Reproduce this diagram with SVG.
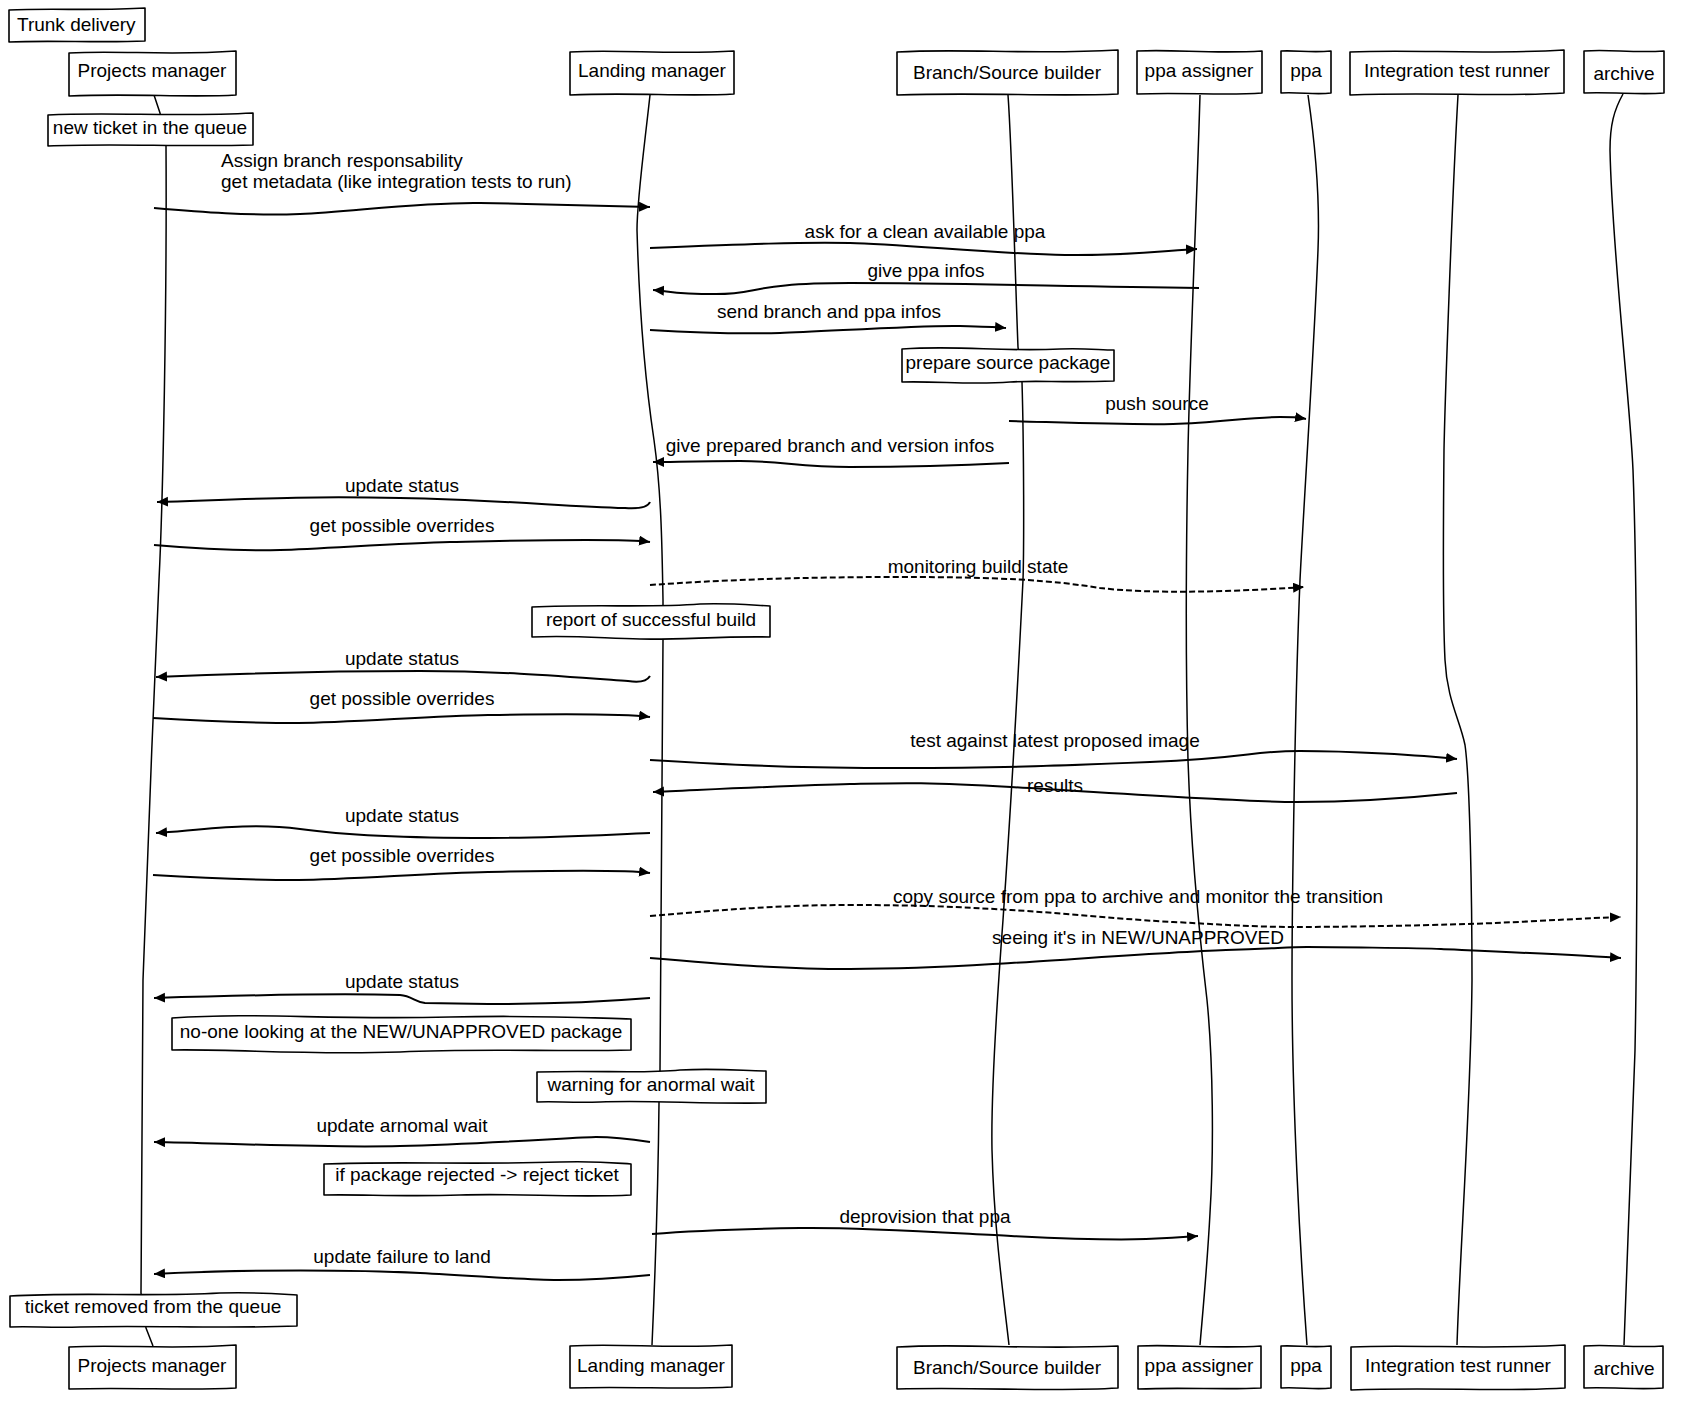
<svg xmlns="http://www.w3.org/2000/svg" width="1693" height="1408" viewBox="0 0 1693 1408">
<style>
.box{fill:#fff;stroke:#000;stroke-width:1.6;stroke-linejoin:round}
.life{fill:none;stroke:#000;stroke-width:1.5;stroke-linejoin:round}
.msg{fill:none;stroke:#000;stroke-width:2;marker-end:url(#ah)}
.dash{stroke-dasharray:6 3}
text{font-family:"Liberation Sans",Arial,sans-serif;font-size:19px;fill:#000}
.c{text-anchor:middle}
</style>
<defs>
<marker id="ah" markerWidth="12" markerHeight="11" refX="11" refY="5" orient="auto" markerUnits="userSpaceOnUse">
<path d="M0,0 L11,5 L0,10 Z" fill="#000"/>
</marker>
</defs>
<rect width="1693" height="1408" fill="#fff"/>

<g id="title">
<path class="box" d="M9,10 C50,8 100,11 145,8 L145,41 C100,43 50,40 9,42 Z"/>
<text x="17" y="31">Trunk delivery</text>
</g>

<g id="projects-manager">
<path class="life" d="M154,95 L160,113 L166,145 C167,300 163,500 159,580 C154,700 145,900 143,980 C142,1100 141,1200 141,1293 L146,1328 L153,1346"/>
<path class="box" d="M69,53 C119,50 169,56 236,51 L236,95 C186,98 136,93 69,96 Z"/>
<text class="c" x="152" y="77">Projects manager</text>
<path class="box" d="M69,1347 C119,1344 169,1350 236,1345 L236,1388 C186,1391 136,1387 69,1389 Z"/>
<text class="c" x="152" y="1372">Projects manager</text>
</g>

<g id="landing-manager">
<path class="life" d="M650,95 C644,150 637,200 637,230 C639,300 645,380 654,440 C661,490 662,540 663,600 L663,640 C663,800 662,950 660,1070 L659,1103 C658,1200 654,1300 652,1345"/>
<path class="box" d="M570,52 C620,49 670,55 734,51 L734,94 C684,97 634,92 570,95 Z"/>
<text class="c" x="652" y="77">Landing manager</text>
<path class="box" d="M570,1346 C620,1343 670,1349 732,1345 L732,1387 C682,1390 632,1386 570,1388 Z"/>
<text class="c" x="651" y="1372">Landing manager</text>
</g>

<g id="branch-source-builder">
<path class="life" d="M1008,95 C1012,150 1016,300 1018,347 L1022,382 C1024,450 1024,550 1023,580 C1018,680 1010,820 1003,920 C997,1000 991,1100 992,1150 C994,1230 1004,1300 1009,1345"/>
<path class="box" d="M897,52 C963,48 1030,55 1118,50 L1118,94 C1052,97 986,92 897,95 Z"/>
<text class="c" x="1007" y="79">Branch/Source builder</text>
<path class="box" d="M897,1347 C963,1343 1030,1350 1118,1346 L1118,1388 C1052,1392 986,1387 897,1389 Z"/>
<text class="c" x="1007" y="1374">Branch/Source builder</text>
</g>

<g id="ppa-assigner">
<path class="life" d="M1200,95 C1197,200 1190,350 1188,450 C1186,550 1186,680 1188,760 C1191,850 1200,940 1207,1000 C1213,1060 1214,1150 1210,1213 C1207,1270 1202,1320 1200,1345"/>
<path class="box" d="M1137,51 C1175,49 1210,54 1262,51 L1262,93 C1224,96 1186,92 1137,94 Z"/>
<text class="c" x="1199" y="77">ppa assigner</text>
<path class="box" d="M1138,1346 C1176,1344 1211,1349 1261,1346 L1261,1388 C1223,1390 1185,1387 1138,1389 Z"/>
<text class="c" x="1199" y="1372">ppa assigner</text>
</g>

<g id="ppa">
<path class="life" d="M1308,95 C1316,150 1320,200 1318,250 C1314,350 1304,500 1300,580 C1295,700 1292,900 1292,980 C1292,1100 1300,1250 1307,1345"/>
<path class="box" d="M1281,51 C1296,50 1310,53 1331,51 L1331,93 C1316,95 1300,92 1281,93 Z"/>
<text class="c" x="1306" y="77">ppa</text>
<path class="box" d="M1281,1346 C1296,1345 1310,1348 1331,1346 L1331,1388 C1316,1390 1300,1387 1281,1388 Z"/>
<text class="c" x="1306" y="1372">ppa</text>
</g>

<g id="integration-test-runner">
<path class="life" d="M1458,95 C1452,200 1445,400 1444,450 C1443,550 1443,620 1445,660 C1447,700 1460,720 1465,745 C1470,780 1472,900 1472,980 C1471,1100 1460,1250 1457,1345"/>
<path class="box" d="M1350,52 C1414,49 1480,55 1564,50 L1564,93 C1500,97 1436,92 1350,95 Z"/>
<text class="c" x="1457" y="77">Integration test runner</text>
<path class="box" d="M1351,1347 C1415,1344 1481,1350 1565,1345 L1565,1388 C1501,1392 1437,1387 1351,1390 Z"/>
<text class="c" x="1458" y="1372">Integration test runner</text>
</g>

<g id="archive">
<path class="life" d="M1623,94 C1614,110 1610,125 1610,150 C1612,250 1630,400 1633,470 C1636,550 1637,650 1637,800 C1637,950 1636,1000 1635,1050 C1632,1150 1627,1250 1624,1345"/>
<path class="box" d="M1584,51 C1608,49 1632,53 1664,51 L1664,93 C1640,95 1616,92 1584,93 Z"/>
<text class="c" x="1624" y="80">archive</text>
<path class="box" d="M1584,1346 C1608,1344 1632,1348 1663,1346 L1663,1388 C1639,1390 1615,1387 1584,1388 Z"/>
<text class="c" x="1624" y="1375">archive</text>
</g>

<g id="connectors">
<path class="msg" d="M154,208 C200,212 250,216 300,214 S420,202 480,203 S610,206 650,207"/>
<text x="221" y="167">Assign branch responsability</text>
<text x="221" y="188">get metadata (like integration tests to run)</text>

<path class="msg" d="M650,248 C750,244 800,242 850,243 S1000,254 1065,255 S1170,250 1197,249"/>
<text class="c" x="925" y="238">ask for a clean available ppa</text>

<path class="msg" d="M1199,288 C1050,286 950,283 850,283 S760,294 716,294 S670,291 653,290"/>
<text class="c" x="926" y="277">give ppa infos</text>

<path class="msg" d="M650,330 C700,333 740,334 780,333 S920,325 960,326 S995,327 1006,328"/>
<text class="c" x="829" y="318">send branch and ppa infos</text>

<path class="msg" d="M1009,421 C1080,423 1130,425 1173,424 S1250,417 1280,417 S1300,418 1306,419"/>
<text class="c" x="1157" y="410">push source</text>

<path class="msg" d="M1009,463 C950,466 900,467 850,467 S780,461 740,461 S670,462 653,462"/>
<text class="c" x="830" y="452">give prepared branch and version infos</text>

<path class="msg" d="M650,502 C648,507 640,509 625,508 C560,506 500,500 400,498 S250,499 157,502"/>
<text class="c" x="402" y="492">update status</text>

<path class="msg" d="M154,545 C200,549 240,551 280,550 S400,543 450,542 S620,538 650,542"/>
<text class="c" x="402" y="532">get possible overrides</text>

<path class="msg dash" d="M650,585 C720,580 800,577 900,577 C1000,577 1050,580 1100,588 C1150,594 1230,592 1304,587"/>
<text class="c" x="978" y="573">monitoring build state</text>

<path class="msg" d="M650,676 C647,681 640,683 628,681 C560,676 500,671 420,671 S250,673 156,677"/>
<text class="c" x="402" y="665">update status</text>

<path class="msg" d="M153,718 C200,721 250,723 298,723 S430,716 488,715 S620,713 650,717"/>
<text class="c" x="402" y="705">get possible overrides</text>

<path class="msg" d="M650,760 C750,766 800,768 900,768 S1050,766 1150,762 S1250,751 1300,751 S1420,755 1457,759"/>
<text class="c" x="1055" y="747">test against latest proposed image</text>

<path class="msg" d="M1457,793 C1400,799 1350,802 1296,802 S1100,792 1011,787 S900,783 850,784 S700,790 653,792"/>
<text class="c" x="1055" y="792">results</text>

<path class="msg" d="M650,833 C600,835 550,838 488,838 S350,836 300,829 S200,830 156,833"/>
<text class="c" x="402" y="822">update status</text>

<path class="msg" d="M153,875 C200,878 250,880 298,880 S430,873 488,872 S620,869 650,873"/>
<text class="c" x="402" y="862">get possible overrides</text>

<path class="msg dash" d="M650,916 C720,910 780,905 850,905 S960,907 1011,910 S1130,920 1173,922 S1250,927 1296,927 S1450,925 1495,923 S1590,918 1621,917"/>
<text class="c" x="1138" y="903">copy source from ppa to archive and monitor the transition</text>

<path class="msg" d="M650,958 C720,964 780,969 850,969 S960,966 1011,963 S1170,952 1226,950 S1290,947 1307,947 S1420,948 1441,949 S1580,955 1621,958"/>
<text class="c" x="1138" y="944">seeing it's in NEW/UNAPPROVED</text>

<path class="msg" d="M650,998 C600,1002 540,1004 488,1004 L425,1003 C415,1002 412,996 400,995 C330,993 250,995 154,998"/>
<text class="c" x="402" y="988">update status</text>

<path class="msg" d="M650,1142 C630,1139 610,1137 596,1137 S480,1144 400,1146 S220,1143 154,1142"/>
<text class="c" x="402" y="1132">update arnomal wait</text>

<path class="msg" d="M652,1234 C690,1231 740,1229 800,1228 S950,1233 1011,1236 S1120,1240 1146,1239 S1185,1237 1198,1236"/>
<text class="c" x="925" y="1223">deprovision that ppa</text>

<path class="msg" d="M650,1275 C620,1278 590,1280 558,1280 S480,1276 420,1273 S250,1269 154,1274"/>
<text class="c" x="402" y="1263">update failure to land</text>
</g>

<g id="note-new-ticket">
<path class="box" d="M48,115 C110,112 180,117 253,113 L253,145 C180,147 110,143 48,146 Z"/>
<text class="c" x="150" y="134">new ticket in the queue</text>
</g>

<g id="note-prepare-source">
<path class="box" d="M902,349 C960,345 1000,352 1060,349 C1085,348 1100,350 1114,350 L1114,381 C1060,383 1040,380 1010,382 C970,385 940,381 902,382 Z"/>
<text class="c" x="1008" y="369">prepare source package</text>
</g>

<g id="note-report-build">
<path class="box" d="M532,607 C600,604 650,608 700,604 C730,603 750,605 770,606 L770,637 C720,636 680,640 640,639 C600,638 570,635 532,637 Z"/>
<text class="c" x="651" y="626">report of successful build</text>
</g>

<g id="note-no-one">
<path class="box" d="M172,1018 C260,1012 320,1020 450,1017 C540,1015 590,1018 631,1019 L631,1050 C560,1052 480,1048 400,1052 C300,1055 240,1049 172,1050 Z"/>
<text class="c" x="401" y="1038">no-one looking at the NEW/UNAPPROVED package</text>
</g>

<g id="note-warning">
<path class="box" d="M537,1072 C600,1070 640,1074 680,1070 C720,1068 745,1071 766,1071 L766,1103 C700,1104 650,1100 600,1102 C570,1103 555,1101 537,1102 Z"/>
<text class="c" x="651" y="1091">warning for anormal wait</text>
</g>

<g id="note-rejected">
<path class="box" d="M324,1164 C400,1161 470,1165 560,1162 C600,1161 615,1163 631,1164 L631,1195 C570,1198 520,1193 460,1195 C400,1197 360,1194 324,1195 Z"/>
<text class="c" x="477" y="1181">if package rejected -&gt; reject ticket</text>
</g>

<g id="note-ticket-removed">
<path class="box" d="M10,1296 C80,1292 150,1297 220,1293 C260,1292 280,1294 297,1295 L297,1326 C220,1329 150,1325 80,1327 C50,1328 30,1326 10,1327 Z"/>
<text class="c" x="153" y="1313">ticket removed from the queue</text>
</g>
</svg>
